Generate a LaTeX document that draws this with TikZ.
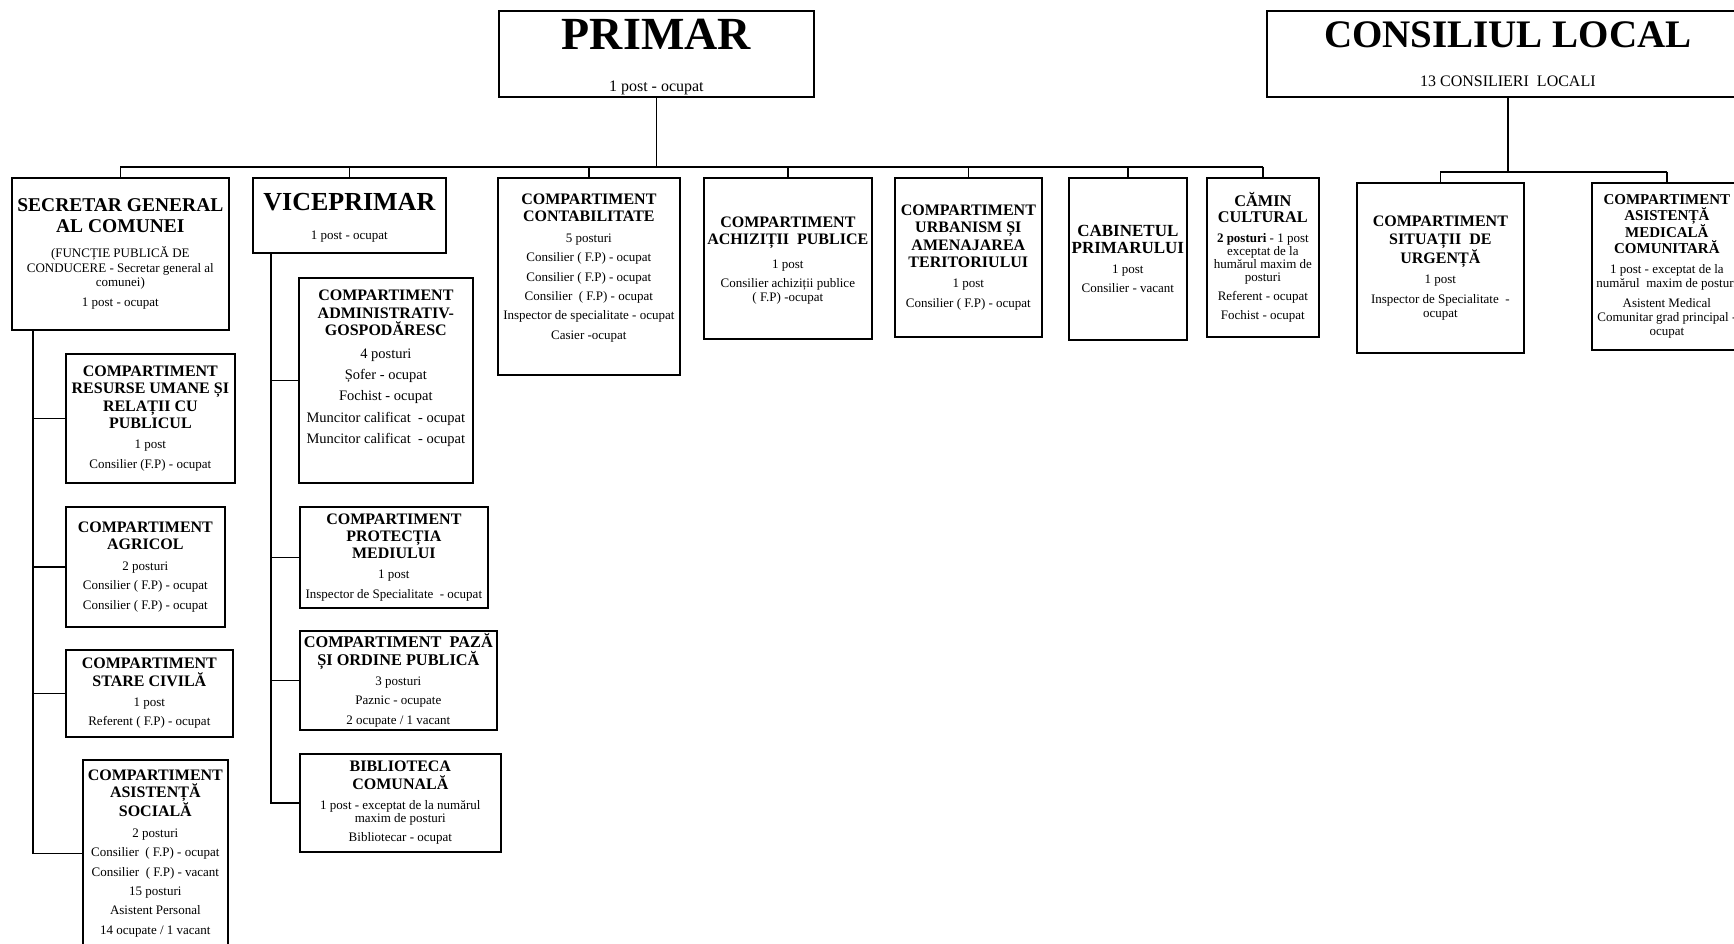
\documentclass[tikz,border=0pt]{standalone}
\usepackage{fontspec}
\setmainfont{Liberation Serif}
\newcommand\TT[3]{{\fontsize{#1}{#2}\selectfont\bfseries #3\par}\vspace{1pt}}
\newcommand\BB[2][14]{\par\vspace{5.4pt}{\fontsize{13}{#1}\selectfont #2\par}}
\newcommand\BBa[1]{\par\vspace{5pt}{\fontsize{14.5}{16.3}\selectfont #1\par}}
\newcommand\BX[3]{\parbox[c][#2pt][c]{#1pt}{\centering #3}}
\tikzset{
  box/.style={draw, line width=1.7pt, inner sep=0pt, anchor=north west, fill=white},
  conn/.style={line width=1.7pt},
}
\begin{document}
\begin{tikzpicture}[x=1pt,y=-1pt]
\useasboundingbox (0,0) rectangle (1734,944);
\clip (0,0) rectangle (1734,944);

% top level
\node[box] (primar) at (498,10)
 {\BX{315}{86}{\vspace*{7pt}{\fontsize{46}{50}\selectfont\bfseries PRIMAR\par}\vspace{24pt}{\fontsize{16}{18}\selectfont 1 post - ocupat\par}}};
\node[box] (consiliul) at (1266,10)
 {\BX{482}{86}{{\fontsize{39}{44}\selectfont\bfseries CONSILIUL\hspace{10pt}LOCAL\par}\vspace{20.7pt}{\fontsize{16}{18}\selectfont 13 CONSILIERI\ \ LOCALI\par}}};

% second level under PRIMAR
\node[box] (secretar) at (11,177)
 {\BX{217}{152}{\TT{19.5}{21}{SECRETAR GENERAL\\AL COMUNEI}\vspace{4pt}\BB[14.5]{(FUNCȚIE PUBLICĂ DE\\CONDUCERE - Secretar general al\\comunei)}\BB{1 post - ocupat}}};
\node[box] (vice) at (252,177)
 {\BX{193}{75}{\vspace*{5pt}\TT{26}{28}{VICEPRIMAR}\vspace{9pt}\BB{1 post - ocupat}}};
\node[box] (contab) at (497,177)
 {\BX{182}{197}{\TT{16}{17.5}{COMPARTIMENT\\CONTABILITATE}\BB{5 posturi}\BB{Consilier ( F.P) - ocupat}\BB{Consilier ( F.P) - ocupat}\BB{Consilier\ \ ( F.P) - ocupat}\BB{Inspector de specialitate - ocupat}\BB{Casier -ocupat}\vspace*{17pt}}};
\node[box] (achiz) at (703,177)
 {\BX{168}{161}{\vspace*{4.6pt}\TT{16}{17.5}{COMPARTIMENT\\ACHIZIȚII\ \ PUBLICE}\vspace{3.4pt}\BB{1 post}\BB{Consilier achiziții publice\\( F.P) -ocupat}}};
\node[box] (urban) at (894,177)
 {\BX{147}{159}{\TT{16}{17.3}{COMPARTIMENT\\URBANISM ȘI\\AMENAJAREA\\TERITORIULUI}\BB{1 post}\BB{Consilier ( F.P) - ocupat}}};
\node[box] (cabinet) at (1068,177)
 {\BX{118}{162}{\TT{17}{17}{CABINETUL\\PRIMARULUI}\BB{1 post}\BB{Consilier - vacant}}};
\node[box] (camin) at (1206,177)
 {\BX{112}{159}{\TT{16.3}{16.7}{CĂMIN\\CULTURAL}\BB[13]{\textbf{2 posturi} - 1 post\\exceptat de la\\humărul maxim de\\posturi}\BB{Referent - ocupat}\BB{Fochist - ocupat}}};

% second level under CONSILIUL LOCAL
\node[box] (situatii) at (1356,182)
 {\BX{167}{170}{\TT{16}{17.8}{COMPARTIMENT\\SITUAȚII\ \ DE\\URGENȚĂ}\BB{1 post}\BB{Inspector de Specialitate\ \ -\\ocupat}}};
\node[box] (medicala) at (1591,182)
 {\BX{150}{167}{\TT{15}{15.5}{COMPARTIMENT\\ASISTENȚĂ\\MEDICALĂ\\COMUNITARĂ}\BB{1 post - exceptat de la\\numărul\ \ maxim de posturi}\BB{Asistent Medical\\Comunitar grad principal -\\ocupat}}};

% under SECRETAR
\node[box] (resurse) at (65,353)
 {\BX{169}{129}{\TT{16}{17.3}{COMPARTIMENT\\RESURSE UMANE ȘI\\RELAȚII CU\\PUBLICUL}\BB{1 post}\BB{Consilier (F.P) - ocupat}}};
\node[box] (agricol) at (65,506)
 {\BX{159}{120}{\TT{16}{17.5}{COMPARTIMENT\\AGRICOL}\BB{2 posturi}\BB{Consilier ( F.P) - ocupat}\BB{Consilier ( F.P) - ocupat}}};
\node[box] (stare) at (65,649)
 {\BX{167}{87}{\TT{16}{17.5}{COMPARTIMENT\\STARE CIVILĂ}\BB{1 post}\BB{Referent ( F.P) - ocupat}}};
\node[box] (asistsoc) at (82,759)
 {\BX{145}{187}{\TT{16}{17.5}{COMPARTIMENT\\ASISTENȚĂ\\SOCIALĂ}\BB{2 posturi}\BB{Consilier\ \ ( F.P) - ocupat}\BB{Consilier\ \ ( F.P) - vacant}\BB{15 posturi}\BB{Asistent Personal}\BB{14 ocupate / 1 vacant}}};

% under VICEPRIMAR
\node[box] (admin) at (298,277)
 {\BX{174}{205}{\TT{16}{17.5}{COMPARTIMENT\\ADMINISTRATIV-\\GOSPODĂRESC}\BBa{4 posturi}\BBa{Șofer - ocupat}\BBa{Fochist - ocupat}\BBa{Muncitor calificat\ \ - ocupat}\BBa{Muncitor calificat\ \ - ocupat}\vspace*{24pt}}};
\node[box] (protectia) at (299,506)
 {\BX{188}{101}{\TT{16}{17}{COMPARTIMENT\\PROTECȚIA\\MEDIULUI}\BB{1 post}\BB{Inspector de Specialitate\ \ - ocupat}}};
\node[box] (paza) at (299,630)
 {\BX{197}{99}{\TT{16.3}{17.5}{COMPARTIMENT\ \ PAZĂ\\ȘI ORDINE PUBLICĂ}\BB{3 posturi}\BB{Paznic - ocupate}\BB{2 ocupate / 1 vacant}}};
\node[box] (biblio) at (299,753)
 {\BX{201}{98}{\TT{16}{17.5}{BIBLIOTECA\\COMUNALĂ}\BB[13.5]{1 post - exceptat de la numărul\\maxim de posturi}\BB{Bibliotecar - ocupat}}};

% connectors: PRIMAR
\coordinate (pbus) at ([yshift=-69pt]primar.south);
\draw[conn] (primar.south) -- (pbus);
\draw[conn] (secretar.north |- pbus) -- (camin.north |- pbus);
\foreach \n in {secretar,vice,contab,achiz,urban,cabinet,camin}
  \draw[conn] (\n.north |- pbus) -- (\n.north);

% connectors: CONSILIUL LOCAL
\coordinate (cbus) at ([yshift=-74pt]consiliul.south);
\draw[conn] (consiliul.south) -- (cbus);
\draw[conn] (situatii.north |- cbus) -- (medicala.north |- cbus);
\foreach \n in {situatii,medicala}
  \draw[conn] (\n.north |- cbus) -- (\n.north);

% connectors: SECRETAR
\coordinate (strunk) at ([xshift=22pt]secretar.south west);
\draw[conn] (strunk) |- (asistsoc.west);
\foreach \n in {resurse,agricol,stare}
  \draw[conn] (strunk |- \n.west) -- (\n.west);

% connectors: VICEPRIMAR
\coordinate (vtrunk) at ([xshift=19pt]vice.south west);
\draw[conn] (vtrunk) |- (biblio.west);
\foreach \n in {admin,protectia,paza}
  \draw[conn] (vtrunk |- \n.west) -- (\n.west);
\end{tikzpicture}
\end{document}
